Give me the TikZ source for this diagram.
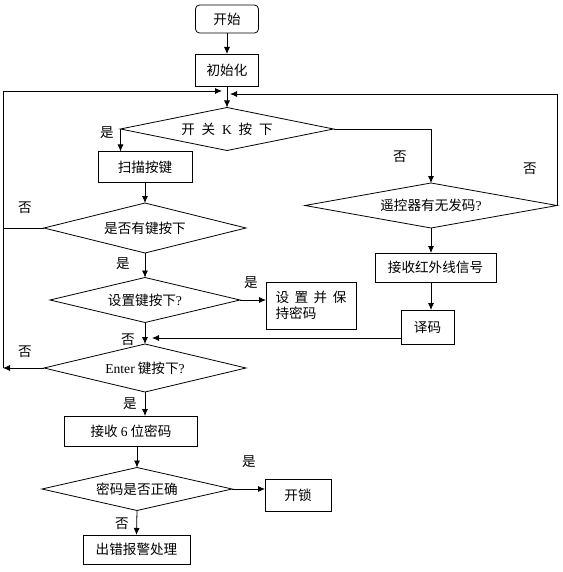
\documentclass[tikz,border=0pt]{standalone}
\usepackage{fontspec}
\setmainfont{Noto Sans CJK SC}
\newfontfamily\latinfont{Liberation Serif}
\usetikzlibrary{arrows.meta, shapes.geometric, positioning}

\tikzset{
  box/.style={draw, rectangle, line width=0.8pt, inner sep=0pt, outer sep=0pt},
  startbox/.style={box, rounded corners=4pt},
  decision/.style={draw, diamond, aspect=5, line width=0.8pt, inner sep=0pt, outer sep=0pt},
  arr/.style={-{Latex[length=7pt,width=6pt]}, line width=0.8pt},
  link/.style={line width=0.8pt},
  yesno/.style={inner sep=0pt}
}

\begin{document}
\begin{tikzpicture}[x=1pt, y=-1pt, font=\fontsize{13.6}{16}\selectfont]
\useasboundingbox (0,0) rectangle (562,572);

% main column
\node[startbox, minimum width=63pt, minimum height=28pt] (start) at (227,19) {开始};
\node[box, minimum width=63pt, minimum height=32pt] (init) at (227,70) {初始化};
\node[decision, minimum width=213pt, minimum height=43pt] (switchk) at (227,129)
  {开\hspace{0.5em}关\hspace{0.5em}{\latinfont K}\hspace{0.5em}按\hspace{0.5em}下};
\node[box, minimum width=94pt, minimum height=31pt] (scan) at (145,167) {扫描按键};
\node[decision, minimum width=202pt, minimum height=50pt] (anykey) at (145,228) {是否有键按下};
\node[decision, minimum width=190pt, minimum height=45pt] (setkey) at (145,300) {设置键按下{\latinfont ?}};
\node[box, minimum width=90pt, minimum height=47pt, align=left] (setpwd) at (311,305.5)
  {设\hspace{0.4em}置\hspace{0.4em}并\hspace{0.4em}保\\持密码};
\node[decision, minimum width=202pt, minimum height=48pt] (enter) at (145,368) {{\latinfont Enter} 键按下{\latinfont ?}};
\node[box, minimum width=133pt, minimum height=30pt] (recv6) at (131,431) {接收 {\latinfont 6} 位密码};
\node[decision, minimum width=190pt, minimum height=43pt] (pwd) at (137,489) {密码是否正确};
\node[box, minimum width=66pt, minimum height=32pt] (unlock) at (298,495) {开锁};
\node[box, minimum width=107pt, minimum height=29pt] (alarm) at (136.5,549.5) {出错报警处理};

% remote branch
\node[decision, minimum width=252pt, minimum height=45pt] (remote) at (431,205.5) {遥控器有无发码{\latinfont ?}};
\node[box, minimum width=121pt, minimum height=29pt] (irrecv) at (435.5,267.5) {接收红外线信号};
\node[box, minimum width=53pt, minimum height=34pt] (decode) at (427.5,327) {译码};

% loop points
\coordinate (mergeL) at (222,91);
\coordinate (mergeR) at (230,94);
\coordinate (loopB) at (3,368);
\coordinate (loopT) at (3,91);
\coordinate (loopR) at (557,94);
\coordinate (decin) at (152,338);

% connectors
\draw[arr] (start) -- (init);
\draw[arr] (init) -- (switchk.north);
\draw[arr] (switchk.west) -- (switchk.west |- scan.north);
\draw[arr] (switchk.east) -- (remote.north |- switchk.east) -- (remote.north);
\draw[arr] (scan) -- (anykey.north);
\draw[link] (anykey.west) -- (anykey.west -| loopB);
\draw[arr] (anykey.south) -- (setkey.north);
\draw[arr] (setkey.east) -- (setkey.east -| setpwd.west);
\draw[arr] (setkey.south) -- (enter.north);
\draw[arr] (enter.west) -- (loopB);
\draw[arr] (loopB) -- (loopT) -- (mergeL);
\draw[arr] (enter.south) -- (enter.south |- recv6.north);
\draw[arr] (pwd.north |- recv6.south) -- (pwd.north);
\draw[arr] (pwd.east) -- (pwd.east -| unlock.west);
\draw[arr] (pwd.south) -- (alarm.north);
\draw[arr] (remote.east) -- (loopR) -- (mergeR);
\draw[arr] (remote.south) -- (remote.south |- irrecv.north);
\draw[arr] (remote.south |- irrecv.south) -- (remote.south |- decode.north);
\draw[arr] (decode.west |- decin) -- (decin);

% yes / no labels
\node[yesno] (yesK) at (107,133) {是};
\node[yesno] (noK) at (400,157) {否};
\node[yesno] (noRemote) at (530,169) {否};
\node[yesno] (noAny) at (25,208) {否};
\node[yesno] (yesAny) at (123,264) {是};
\node[yesno] (yesSet) at (251,283) {是};
\node[yesno] (noSet) at (128,340) {否};
\node[yesno] (noEnter) at (25,352) {否};
\node[yesno] (yesEnter) at (130,404) {是};
\node[yesno] (yesPwd) at (249,462) {是};
\node[yesno] (noPwd) at (122,524) {否};
\end{tikzpicture}
\end{document}
